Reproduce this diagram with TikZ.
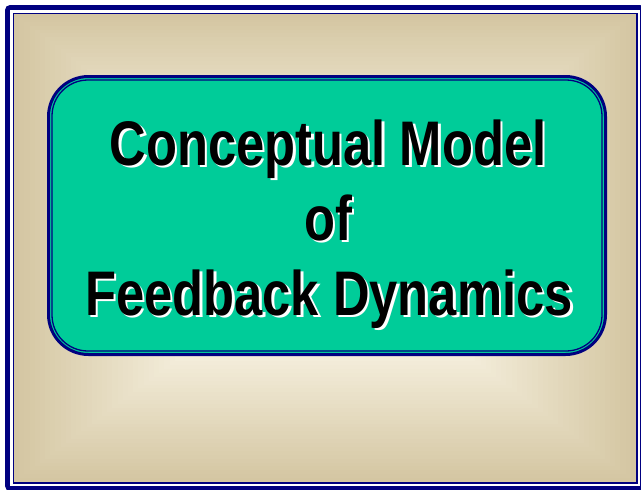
\documentclass[tikz,border=0pt]{standalone}
\usepackage{fontspec}
\newfontfamily\tf{Liberation Sans}[FakeStretch=0.805]
\definecolor{navyb}{RGB}{0,0,128}
\definecolor{tealb}{RGB}{0,204,153}
\definecolor{edgec}{RGB}{212,198,162}
\definecolor{centc}{RGB}{245,239,221}
\newcommand\shadowedtext[1]{\leavevmode\rlap{\kern2.5pt\raisebox{-2.5pt}{\color{white}#1}}#1}
\begin{document}
\begin{tikzpicture}[x=1pt,y=-1pt,
  titletext/.style={font=\tf\bfseries\fontsize{63}{63}\selectfont, anchor=base, inner sep=0pt, text=black}]
\useasboundingbox (0,0) rectangle (641,490);
\fill[white] (0,0) rectangle (641,490);
% rectangular gradient from centre
\foreach \i in {0,...,60}{
  \pgfmathsetmacro\tv{1-\i/60}
  \pgfmathsetmacro\pv{max(0,min(100,(\tv-0.45)/0.55*100))}
  \fill[edgec!\pv!centc] ({325-311*\tv},{248-234*\tv}) rectangle ({325+311*\tv},{248+234*\tv});
}
% frame
\draw[navyb, line width=5, rounded corners=3] (7.5,7.5) rectangle (642.5,488.5);
\draw[white, line width=2] (11,11) rectangle (639,485);
\draw[navyb, line width=1.5] (13.25,13.25) rectangle (636.75,482.75);
% title box
\draw[navyb, line width=3, fill=tealb, rounded corners=40] (48.5,76.5) rectangle (605.5,354.5);
\draw[navyb, line width=1.3, rounded corners=36] (52,80) rectangle (602,351);
% text
\node[titletext] (l1) at (328,165) {\shadowedtext{Conceptual Model}};
\node[titletext] (l2) at (328,240) {\shadowedtext{of}};
\node[titletext] (l3) at (329,315) {\shadowedtext{Feedback Dynamics}};
\end{tikzpicture}
\end{document}
